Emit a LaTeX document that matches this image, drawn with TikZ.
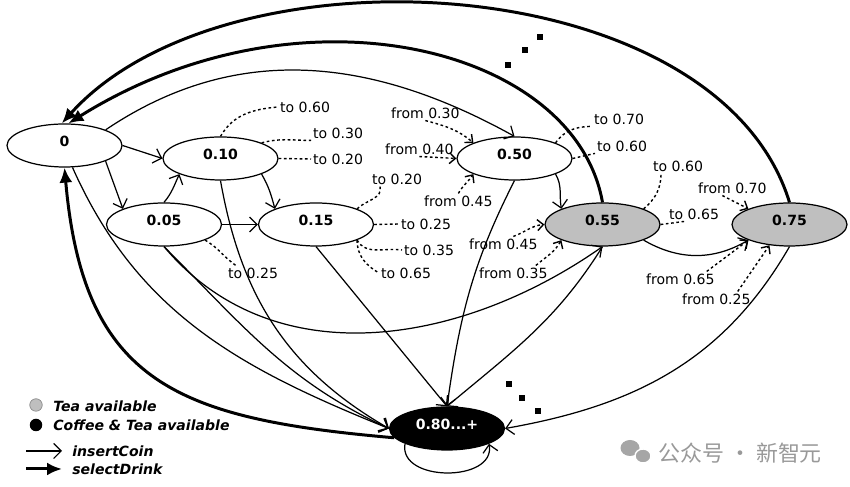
\documentclass[tikz,border=0pt]{standalone}
\usepackage{fontspec}
\setmainfont{DejaVu Sans}
\newfontfamily\cjkfont{Noto Sans CJK SC}
\usetikzlibrary{shapes.geometric,arrows.meta}

\tikzset{
  amount/.style={ellipse, draw, line width=0.7pt, minimum width=2.3cm, minimum height=0.86cm,
    inner sep=0pt, font=\fontsize{8}{9.6}\selectfont\bfseries, text height=5.8pt, text depth=5.2pt},
  tea/.style={amount, fill=black!25},
  coffee/.style={amount, fill=black, text=white},
  coin/.style={-{Straight Barb[length=1.5mm,width=3mm]}, line width=0.7pt},
  drink/.style={-{Latex[length=3mm,width=2.6mm]}, line width=1.7pt},
  hint/.style={dash pattern=on 1.5pt off 1.5pt, line width=0.8pt},
  hinto/.style={hint, -{Straight Barb[length=1.2mm,width=2.2mm]}},
  lbl/.style={font=\fontsize{8}{9.6}\selectfont, inner sep=1pt, anchor=west},
  key/.style={font=\fontsize{8}{9.6}\selectfont\bfseries\itshape, inner sep=0pt, anchor=west},
}

\begin{document}
\begin{tikzpicture}
    \useasboundingbox (0,0) rectangle (17,9.74);

    % States
    \node[amount] (n0)  at (1.29,6.83) {0};
    \node[amount] (n10) at (4.41,6.57) {0.10};
    \node[amount] (n05) at (3.28,5.25) {0.05};
    \node[amount] (n15) at (6.32,5.25) {0.15};
    \node[amount] (n50) at (10.29,6.57) {0.50};
    \node[tea] (n55) at (12.05,5.25) {0.55};
    \node[tea] (n75) at (15.79,5.25) {0.75};
    \node[coffee] (n80) at (8.94,1.17) {0.80...+};

    % insertCoin
    \draw[coin] (n0.east) -- (n10.west);
    \draw[coin] (n0.south east) -- (n05.north west);
    \draw[coin] (n05.north) to[out=50,in=-115] (n10.south west);
    \draw[coin] (n05.east) -- (n15.west);
    \draw[coin] (n10.south east) to[out=-60,in=105] (n15.north west);
    \draw[coin] (n0.north east) to[out=34,in=151] (n50.north);
    \draw[coin] (n50.south east) to[out=-60,in=100] (n55.north west);
    \draw[coin] (n55.south east) to[out=-30,in=-150] (n75.south west);
    \draw[coin] (n05.south) to[out=-50,in=-145] (n55.south);
    \draw[coin] (n0.-70) to[out=-66,in=158] (n80.west);
    \draw[coin] (n05.south) to[out=-45,in=155] (n80.west);
    \draw[coin] (n10.south) to[out=-80,in=150] (n80.west);
    \draw[coin] (n15.south) -- (n80.north);
    \draw[coin] (n50.south) to[out=-117,in=82] (n80.north);
    \draw[coin] (n55.south) to[out=-122,in=40] (n80.north);
    \draw[coin] (n75.south) to[out=-120,in=10] (n80.east);
    \draw[coin] (n80.-160) to[out=-100,in=-80,looseness=1.2] (n80.-20);

    % selectDrink
    \draw[drink] (n80.-170) to[out=175,in=-85,looseness=1.3] (n0.south);
    \draw[drink] (n55.north) to[out=100,in=32,out looseness=0.75,in looseness=1.3] (n0.80);
    \draw[drink] (n75.north) to[out=107,in=48,looseness=0.86] (n0.97);

    % More states
    \foreach \x/\y in {10.16/8.44, 10.50/8.74, 10.80/9.00, 10.18/2.06, 10.44/1.78, 10.76/1.52}
        \fill[black] (\x-0.06,\y-0.06) rectangle ++(0.12,0.12);

    % Hints to other amounts
    \node[lbl] (l10a) at (5.56,7.60) {to 0.60};
    \node[lbl] (l10b) at (6.22,7.08) {to 0.30};
    \node[lbl] (l10c) at (6.22,6.56) {to 0.20};
    \node[lbl] (l05a) at (4.52,4.28) {to 0.25};
    \node[lbl] (l15a) at (7.40,6.16) {to 0.20};
    \node[lbl] (l15b) at (7.98,5.26) {to 0.25};
    \node[lbl] (l15c) at (8.04,4.74) {to 0.35};
    \node[lbl] (l15d) at (7.58,4.28) {to 0.65};
    \node[lbl] (l50a) at (7.78,7.48) {from 0.30};
    \node[lbl] (l50b) at (7.66,6.76) {from 0.40};
    \node[lbl] (l50c) at (8.44,5.72) {from 0.45};
    \node[lbl] (l50d) at (11.84,7.36) {to 0.70};
    \node[lbl] (l50e) at (11.90,6.82) {to 0.60};
    \node[lbl] (l55a) at (9.34,4.86) {from 0.45};
    \node[lbl] (l55b) at (9.54,4.28) {from 0.35};
    \node[lbl] (l55c) at (13.02,6.42) {to 0.60};
    \node[lbl] (l55d) at (13.34,5.46) {to 0.65};
    \node[lbl] (l75a) at (13.92,5.98) {from 0.70};
    \node[lbl] (l75b) at (12.88,4.16) {from 0.65};
    \node[lbl] (l75c) at (13.60,3.76) {from 0.25};

    \draw[hint] (n10.north) to[out=60,in=185] (l10a.west);
    \draw[hint] (n10.north east) to[out=15,in=180] (l10b.south west);
    \draw[hint] (n10.east) -- (l10c.west);
    \draw[hint] (n05.south east) to[out=-30,in=145] ([xshift=2mm]l05a.north west);
    \draw[hint] (n15.north east) to[out=45,in=-75] ([xshift=2mm]l15a.south west);
    \draw[hint] (n15.east) -- (l15b.west);
    \draw[hint] (n15.south east) to[out=-60,in=172] (l15c.west);
    \draw[hint] (n15.south east) to[out=-90,in=150] (l15d.west);
    \draw[hinto] (l50a.south) to[out=-15,in=140] (n50.north west);
    \draw[hinto] (l50b.south) -- (n50.west);
    \draw[hinto] (l50c.north) to[out=60,in=-125] (n50.south west);
    \draw[hint] (n50.north east) to[out=55,in=180] (l50d.south west);
    \draw[hint] (n50.east) -- (l50e.south west);
    \draw[hinto] ([xshift=2mm]l55a.north) to[out=20,in=185] (n55.west);
    \draw[hinto] ([xshift=4.5mm]l55b.north) to[out=40,in=-120] (n55.south west);
    \draw[hint] (n55.north east) to[out=40,in=-90] ([xshift=2mm]l55c.south west);
    \draw[hint] (n55.east) -- ([xshift=3.5mm]l55d.south west);
    \draw[hinto] ([xshift=-2mm]l75a.south) -- (n75.north west);
    \draw[hinto] ([xshift=-2mm]l75b.north east) -- (n75.south west);
    \draw[hinto] ([xshift=-3mm]l75c.north east) -- (n75.-134);

    % Legend
    \node[circle, draw=black!45, fill=black!25, minimum size=0.25cm, inner sep=0pt] (k1) at (0.72,1.64) {};
    \node[key] (t1) at (1.06,1.62) {Tea available};
    \node[circle, fill=black, minimum size=0.25cm, inner sep=0pt] (k2) at (0.72,1.24) {};
    \node[key] (t2) at (1.06,1.24) {Coffee \& Tea available};
    \coordinate (a1) at (0.52,0.72);
    \coordinate (b1) at (1.24,0.72);
    \draw[coin] (a1) -- (b1);
    \node[key] (t3) at (1.44,0.72) {insertCoin};
    \coordinate (a2) at (0.52,0.36);
    \coordinate (b2) at (1.24,0.36);
    \draw[drink] (a2) -- (b2);
    \node[key] (t4) at (1.44,0.36) {selectDrink};

    % Watermark
    \fill[black!35] (12.60,0.78) ellipse (0.19 and 0.16);
    \filldraw[black!35, draw=white, line width=0.8pt] (12.86,0.62) ellipse (0.16 and 0.14);
    \node[font=\cjkfont\fontsize{12.5}{14}\selectfont, text=black!40, anchor=west, inner sep=0pt] (wm) at (13.16,0.68) {公众号 · 新智元};
\end{tikzpicture}
\end{document}
